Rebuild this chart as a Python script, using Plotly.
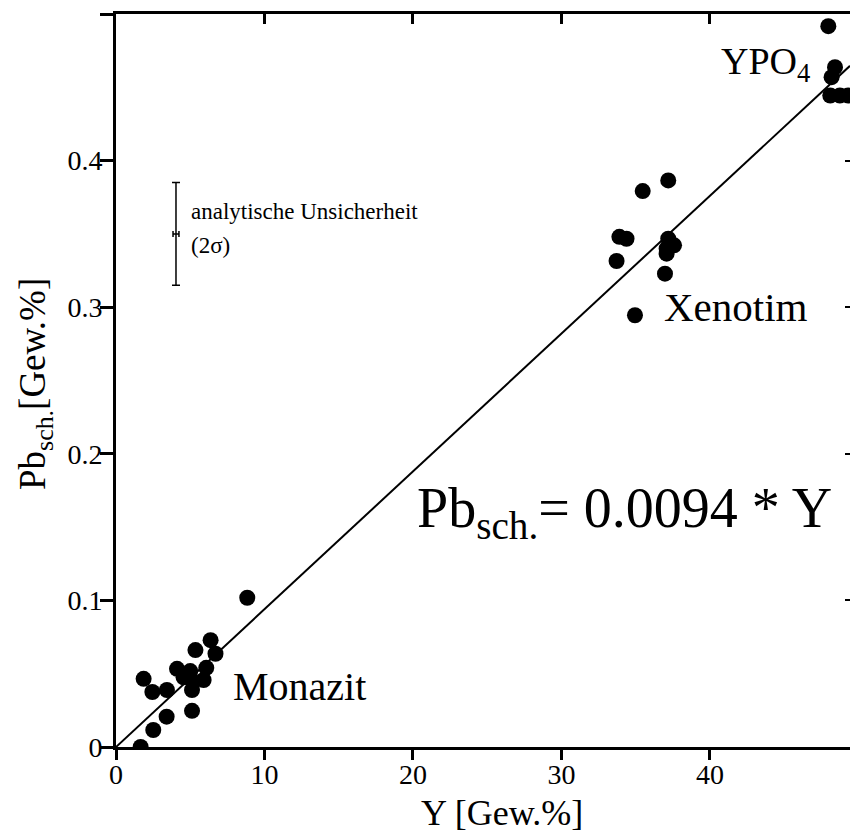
import plotly.graph_objects as go

# ---- data ----
monazit_y = [1.66, 2.51, 3.41, 5.12, 1.86, 2.45, 3.43, 4.11, 4.55, 5.00, 5.12, 5.20, 5.90, 6.08, 5.35, 6.37, 6.70, 8.84]
monazit_pb = [0.000, 0.0116, 0.0207, 0.0247, 0.0465, 0.0375, 0.0389, 0.0533, 0.0475, 0.0518, 0.0389, 0.0445, 0.0457, 0.0540, 0.0661, 0.0729, 0.0636, 0.1018]

xenotim_y = [37.19, 35.47, 33.90, 34.38, 33.71, 37.19, 37.08, 37.58, 37.08, 36.97, 34.95]
xenotim_pb = [0.3865, 0.3792, 0.3480, 0.3467, 0.3315, 0.3467, 0.3400, 0.3422, 0.3365, 0.3229, 0.2945]

ypo4_y = [47.97, 48.42, 48.19, 48.10, 48.75, 49.30]
ypo4_pb = [0.4917, 0.4637, 0.4569, 0.4444, 0.4444, 0.4444]

slope = 0.0094
x_max = 49.43
y_max = 0.5

err_x, err_y = [4.04], [0.35]
err_dx, err_dy = [0.2], [0.035]

x_ticks = [0, 10, 20, 30, 40]
y_ticks = [0, 0.1, 0.2, 0.3, 0.4, 0.5]
y_ticktext = ["0", "0.1", "0.2", "0.3", "0.4", ""]

FONT = "Liberation Serif"

# plot area in pixels
L, R, T, B = 116, 850, 14, 747


def px(xp):
    return (xp - L) / (R - L)


def py(yp):
    return (B - yp) / (B - T)


fig = go.Figure()

all_x = monazit_y + xenotim_y + ypo4_y
all_y = monazit_pb + xenotim_pb + ypo4_pb

# regression line
fig.add_trace(go.Scatter(x=[0, x_max], y=[0, slope * x_max], mode="lines",
                         line=dict(color="black", width=2), showlegend=False,
                         hoverinfo="skip"))

# data points
fig.add_trace(go.Scatter(x=all_x, y=all_y, mode="markers",
                         marker=dict(color="black", size=16), showlegend=False))

# analytical uncertainty error bar
fig.add_trace(go.Scatter(x=err_x, y=err_y, mode="markers",
                         marker=dict(color="black", size=1, opacity=0),
                         error_y=dict(type="data", array=err_dy, visible=True,
                                      color="black", thickness=1.5, width=4),
                         error_x=dict(type="data", array=err_dx, visible=True,
                                      color="black", thickness=1.5, width=3),
                         showlegend=False))

# dummy traces for the extra axes
fig.add_trace(go.Scatter(x=[0], y=[0], xaxis="x2", yaxis="y2", mode="markers",
                         marker=dict(opacity=0), showlegend=False, hoverinfo="skip"))
fig.add_trace(go.Scatter(x=[0], y=[0], xaxis="x3", yaxis="y3", mode="markers",
                         marker=dict(opacity=0), showlegend=False, hoverinfo="skip"))

tickfont = dict(family=FONT, size=28, color="black")
clear = "rgba(0,0,0,0)"

fig.update_layout(
    width=850, height=832,
    margin=dict(l=L, r=850 - R, t=T, b=832 - B),
    plot_bgcolor="white", paper_bgcolor="white",
    font=dict(family=FONT, color="black"),
    # main axes: lines and outside ticks
    xaxis=dict(range=[0, x_max], tickvals=x_ticks, showline=True, linewidth=3,
               linecolor="black", ticks="outside", ticklen=10, tickwidth=3,
               tickcolor="black", showgrid=False, zeroline=False,
               showticklabels=False),
    yaxis=dict(range=[0, y_max], tickvals=y_ticks, showline=True, linewidth=3,
               linecolor="black", ticks="outside", ticklen=13, tickwidth=3,
               tickcolor="black", showgrid=False, zeroline=False,
               showticklabels=False),
    # top / right mirrored ticks
    xaxis2=dict(range=[0, x_max], overlaying="x", side="top", showline=True,
                linewidth=3, linecolor="black", ticks="inside", ticklen=10,
                tickwidth=3, tickcolor="black", tickvals=x_ticks[1:],
                showticklabels=False, showgrid=False, zeroline=False),
    yaxis2=dict(range=[0, y_max], overlaying="y", side="right", showline=False,
                ticks="inside", ticklen=5, tickwidth=2, tickcolor="black",
                tickvals=y_ticks[1:5], showticklabels=False, showgrid=False,
                zeroline=False),
    # tick labels (placed close to the axis lines, invisible spacer ticks)
    xaxis3=dict(range=[0, x_max], overlaying="x", side="bottom", showline=False,
                ticks="outside", ticklen=2, tickcolor=clear, tickvals=x_ticks,
                showgrid=False, zeroline=False, tickfont=tickfont),
    yaxis3=dict(range=[0, y_max], overlaying="y", side="left", showline=False,
                ticks="outside", ticklen=7, tickcolor=clear, tickvals=y_ticks,
                ticktext=y_ticktext, showgrid=False, zeroline=False,
                tickfont=tickfont),
)

ann = [
    dict(text="Pb<sub>sch.</sub>= 0.0094 * Y", x=px(415), y=py(512), size=56, anchor="left"),
    dict(text="YPO<sub>4</sub>", x=px(719), y=py(64), size=38, anchor="left"),
    dict(text="Xenotim", x=px(662), y=py(307), size=41, anchor="left"),
    dict(text="Monazit", x=px(231), y=py(686), size=40, anchor="left"),
    dict(text="analytische Unsicherheit", x=px(189), y=py(211), size=23, anchor="left"),
    dict(text="(2σ)", x=px(189), y=py(245), size=23, anchor="left"),
    dict(text="Y [Gew.%]", x=px(502), y=py(813), size=36, anchor="center"),
]
for a in ann:
    fig.add_annotation(text=a["text"], x=a["x"], y=a["y"], xref="paper", yref="paper",
                       xanchor=a["anchor"], yanchor="middle", showarrow=False,
                       font=dict(family=FONT, size=a["size"], color="black"))

fig.add_annotation(text="Pb<sub>sch.</sub>[Gew.%]", x=px(35), y=py(384),
                   xref="paper", yref="paper", xanchor="center", yanchor="middle",
                   textangle=-90, showarrow=False,
                   font=dict(family=FONT, size=37, color="black"))

fig.write_html("out.html")
